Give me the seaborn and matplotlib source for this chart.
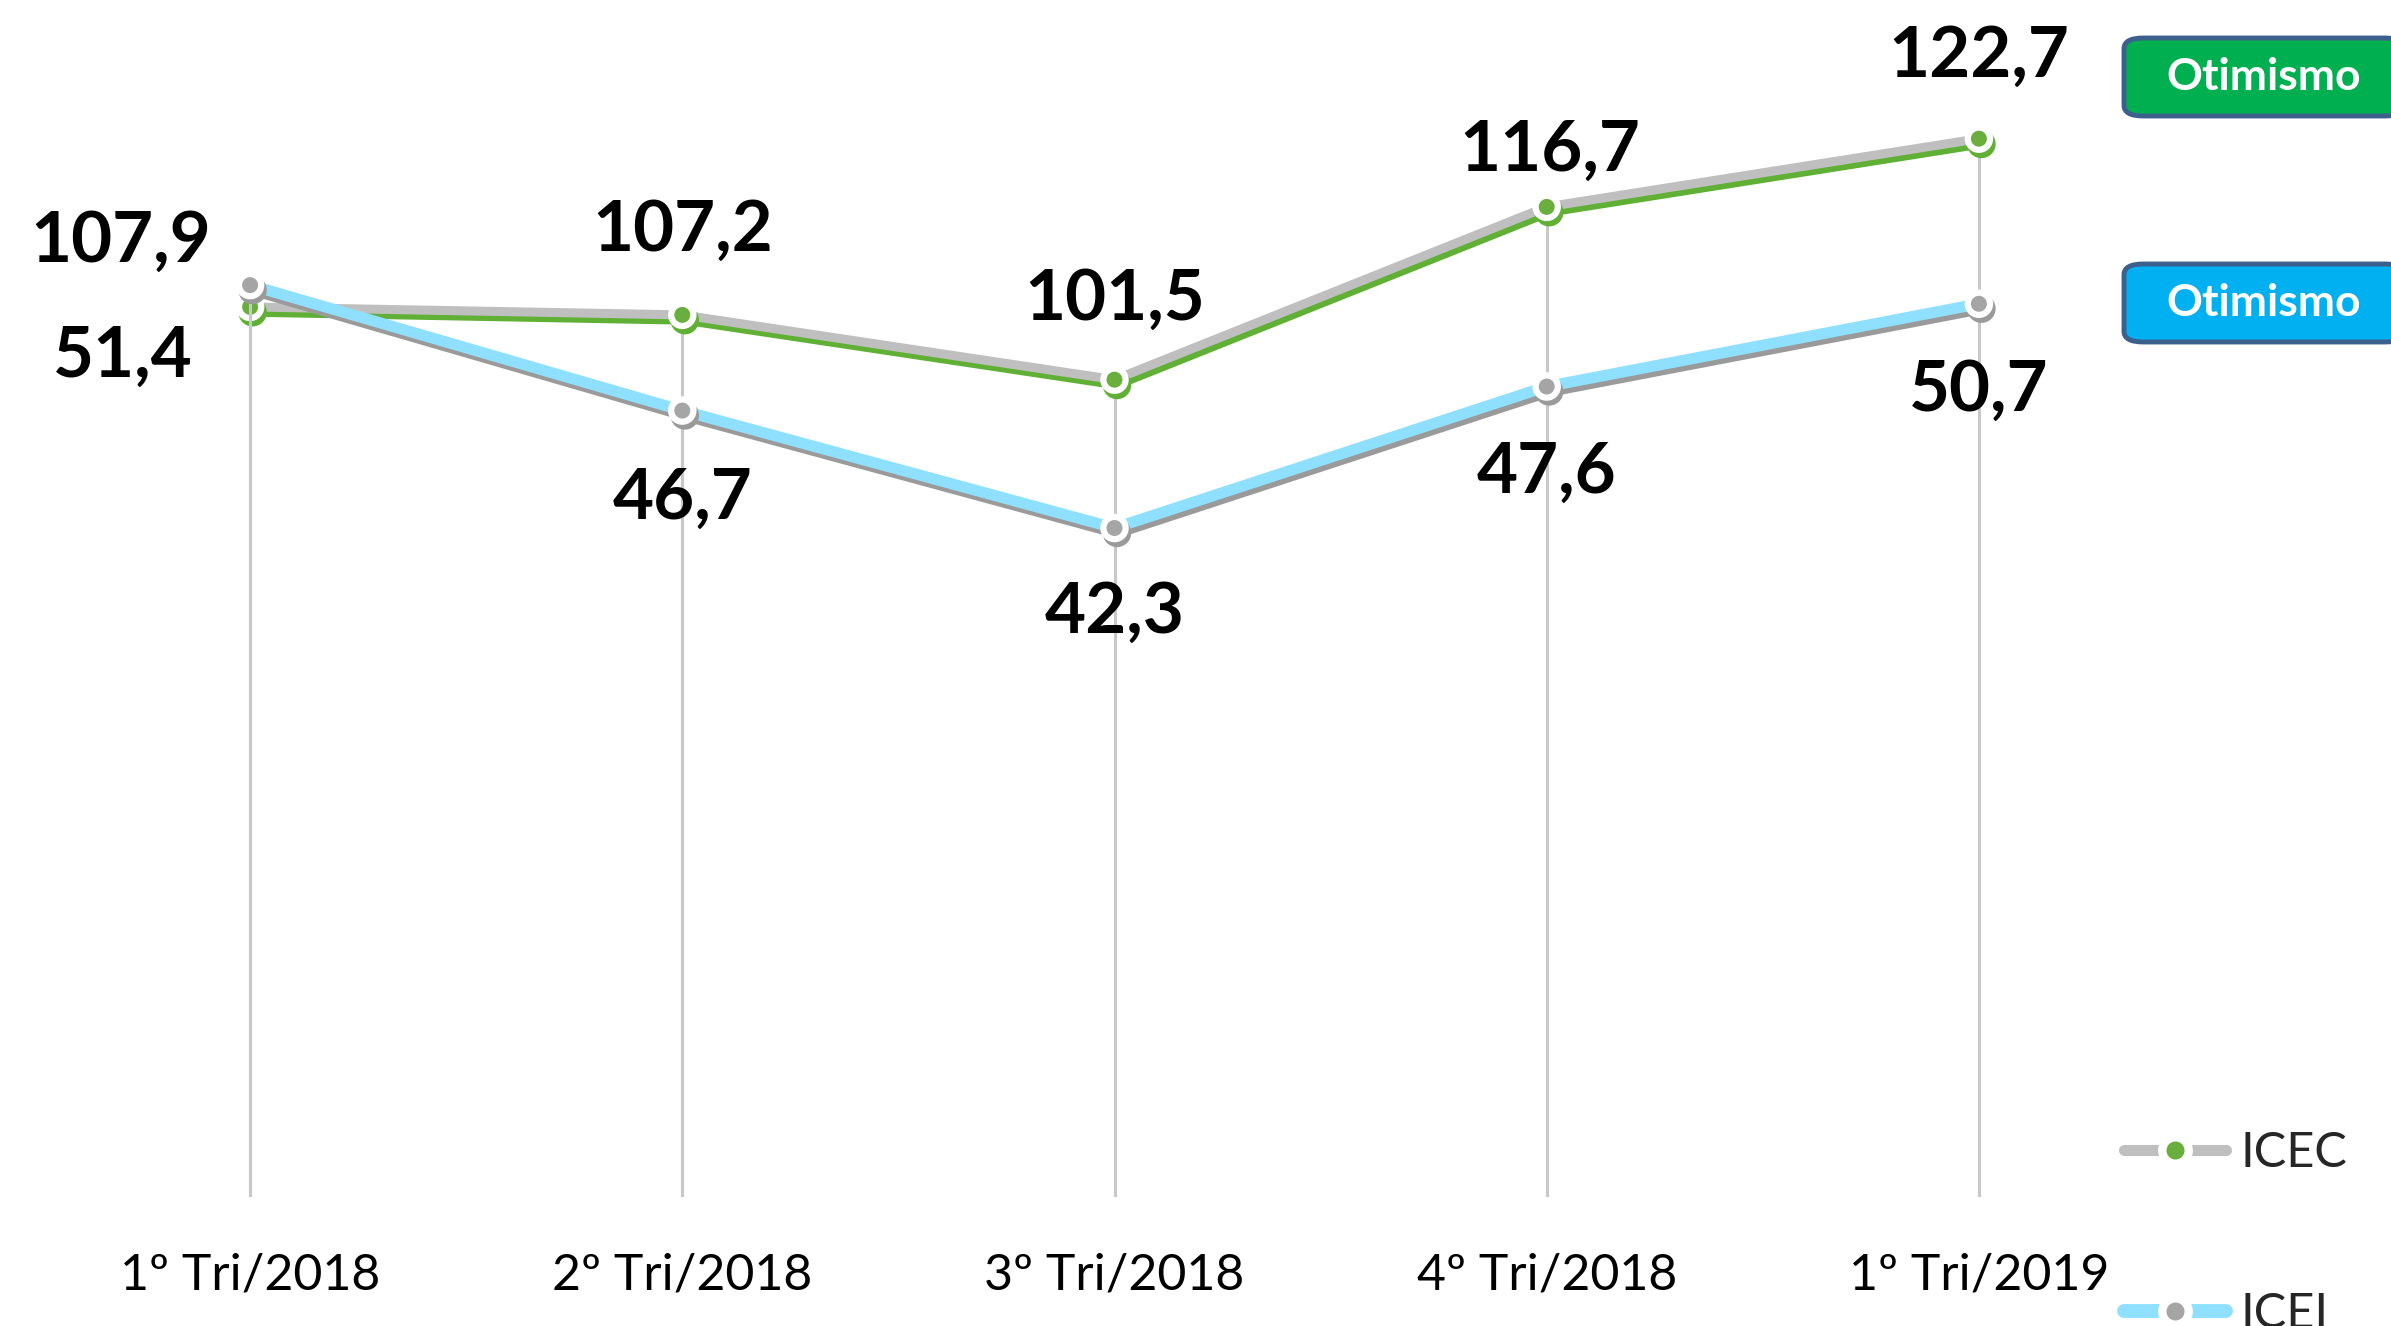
import numpy as np
import pandas as pd
import matplotlib
matplotlib.use("Agg")
import matplotlib.pyplot as plt
import matplotlib.patheffects as pe
from matplotlib.lines import Line2D
from matplotlib.patches import FancyBboxPatch
import seaborn as sns

# ---- data ----
categories = ["1º Tri/2018", "2º Tri/2018", "3º Tri/2018", "4º Tri/2018", "1º Tri/2019"]
icec = [107.9, 107.2, 101.5, 116.7, 122.7]
icei = [51.4, 46.7, 42.3, 47.6, 50.7]
series_names = ["ICEC", "ICEI"]
box_labels = ["Otimismo", "Otimismo"]

# label offsets (points) — layout only
icec_offsets = [(-93, 47), (0, 61), (0, 58), (2, 41), (0, 59)]
icei_offsets = [(-92, -51), (0, -63), (0, -61), (0, -62), (0, -62)]

sns.set_theme(style="white")
plt.rcParams['font.family'] = ['Lato', 'DejaVu Sans']

W, H = 2391, 1326
fig = plt.figure(figsize=(W / 100, H / 100), dpi=100)
ax = fig.add_axes([34 / W, 129 / H, (2195 - 34) / W, (1197) / H])
ax2 = ax.twinx()

x = np.arange(len(categories))
df = pd.DataFrame({"x": x, "cat": categories, "ICEC": icec, "ICEI": icei})

ax.set_xlim(-0.5, len(categories) - 0.5)
ax.set_ylim(29.6, 134.9)
ax2.set_ylim(17.24, 62.08)

GRAY_LINE = "#BFBFBF"
GREEN = "#6AAE3E"
BLUE = "#8FE0FF"
GRAY_MK = "#A5A5A5"
SHADOW_GRAY = "#9A9A9A"

# drop lines
ax.vlines(x, ax.get_ylim()[0], icec, color="#C8C8C8", lw=2.2, zorder=0)
ax2.vlines(x, ax2.get_ylim()[0], icei, color="#C8C8C8", lw=2.2, zorder=0)

MS, MEW = 16, 4.5
sns.lineplot(data=df, x="x", y="ICEC", ax=ax, color=GRAY_LINE, lw=6.5,
             marker="o", markersize=MS, markerfacecolor=GREEN,
             markeredgecolor="white", markeredgewidth=MEW, zorder=3,
             path_effects=[pe.SimpleLineShadow(offset=(1.8, -3.8), shadow_color="#5FB035", alpha=1.0),
                           pe.Normal()])
sns.lineplot(data=df, x="x", y="ICEI", ax=ax2, color=BLUE, lw=8,
             marker="o", markersize=MS, markerfacecolor=GRAY_MK,
             markeredgecolor="white", markeredgewidth=MEW, zorder=3,
             path_effects=[pe.SimpleLineShadow(offset=(1.8, -3.5), shadow_color=SHADOW_GRAY, alpha=1.0),
                           pe.Normal()])

for xi, v, (dx, dy) in zip(x, icec, icec_offsets):
    ax.annotate(f"{v:.1f}".replace(".", ","), (xi, v), xytext=(dx, dy),
                textcoords="offset points", ha="center", va="center",
                fontsize=51, fontweight="bold", color="black")
for xi, v, (dx, dy) in zip(x, icei, icei_offsets):
    ax2.annotate(f"{v:.1f}".replace(".", ","), (xi, v), xytext=(dx, dy),
                 textcoords="offset points", ha="center", va="center",
                 fontsize=51, fontweight="bold", color="black")

# axes styling
for a in (ax, ax2):
    for s in a.spines.values():
        s.set_visible(False)
    a.set_yticks([])
    a.set_ylabel("")
    a.set_xlabel("")
ax.set_xticks(x)
ax.set_xticklabels(categories, fontsize=36, color="black")
ax.tick_params(axis="x", length=0, pad=40)
ax2.tick_params(axis="x", length=0)
ax.grid(False)
ax2.grid(False)
ax.set_facecolor("none")

# legend
h1 = Line2D([], [], color=GRAY_LINE, lw=8, marker="o", markersize=19,
            markerfacecolor=GREEN, markeredgecolor="white", markeredgewidth=6,
            solid_capstyle="round")
h2 = Line2D([], [], color=BLUE, lw=10, marker="o", markersize=19,
            markerfacecolor=GRAY_MK, markeredgecolor="white", markeredgewidth=6,
            solid_capstyle="round")
leg = fig.legend([h1, h2], series_names, loc="upper left",
                 bbox_to_anchor=(2100 / W, 1 - 1107 / H), frameon=False,
                 fontsize=35, handlelength=2.1, handletextpad=0.3,
                 labelspacing=2.4, borderpad=0)

# Otimismo boxes
box_colors = ["#00B050", "#00B0F0"]
box_tops = [38, 264]
for lbl, col, top in zip(box_labels, box_colors, box_tops):
    bx0, bx1 = 2124, 2404
    by0, by1 = top, top + 78
    p = FancyBboxPatch((bx0 / W, 1 - by1 / H), (bx1 - bx0) / W, (by1 - by0) / H,
                       boxstyle="round,pad=0,rounding_size=0.008",
                       transform=fig.transFigure, facecolor=col,
                       edgecolor="#3D5F8C", linewidth=3.5, clip_on=False)
    fig.patches.append(p)
    fig.text((bx0 + bx1) / 2 / W, 1 - (by0 + by1) / 2 / H, lbl, ha="center", va="center",
             fontsize=32, fontweight="bold", color="white")

fig.savefig("out.png", dpi=100, facecolor="white")
